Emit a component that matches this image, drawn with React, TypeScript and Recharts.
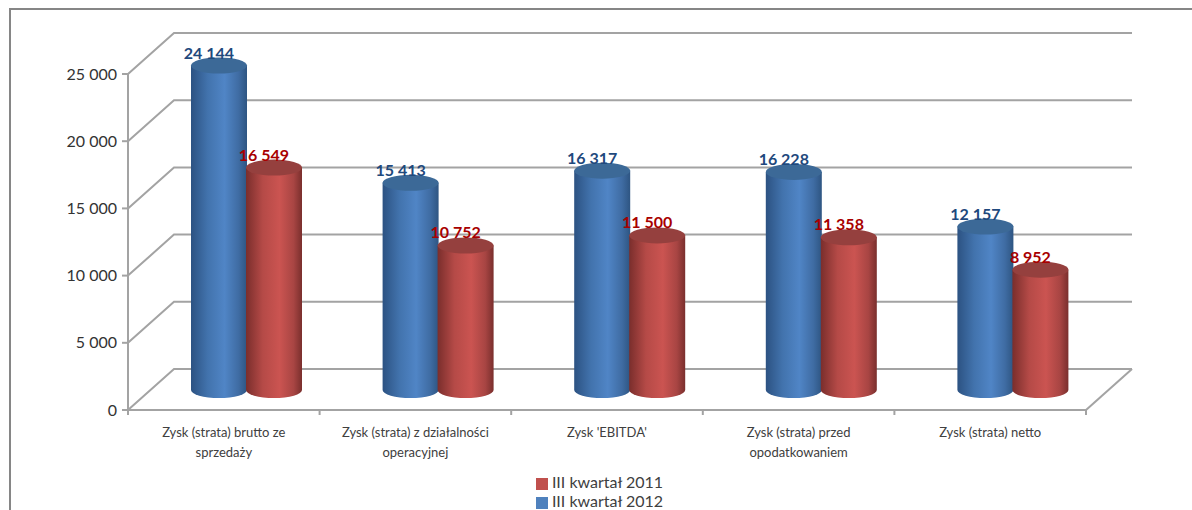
import {
  Bar,
  BarChart,
  CartesianGrid,
  LabelList,
  Legend,
  XAxis,
  YAxis,
} from "recharts";

const categories = [
  "Zysk (strata) brutto ze\nsprzedaży",
  "Zysk (strata) z działalności\noperacyjnej",
  "Zysk 'EBITDA'",
  "Zysk (strata) przed\nopodatkowaniem",
  "Zysk (strata) netto",
];
const values2012 = [24144, 15413, 16317, 16228, 12157];
const values2011 = [16549, 10752, 11500, 11358, 8952];
const yTicks = [0, 5000, 10000, 15000, 20000, 25000];

const data = categories.map((name, i) => ({
  name,
  q2012: values2012[i],
  q2011: values2011[i],
}));

const FONT = "Lato, sans-serif";
const GRID = "#a3a3a3";
const PLOT_WIDTH = 958;
// 3D look: back wall is shifted by this much, bars stand halfway in
const BACK_X = 46;
const BACK_Y = 41;
const MID_X = 23;
const MID_Y = 20;

const fmt = (v: number) =>
  String(v).replace(/\B(?=(\d{3})+$)/g, " ");

const Cylinder = (props: any) => {
  const { x, y, width, height, grad, top } = props;
  const rx = width / 2;
  const ry = 8;
  const l = x + MID_X;
  const r = l + width;
  const t = y - MID_Y;
  const b = t + height;
  return (
    <g>
      <path
        d={`M${l},${t} L${l},${b} A${rx},${ry} 0 0 0 ${r},${b} L${r},${t} Z`}
        fill={`url(#${grad})`}
      />
      <ellipse cx={l + rx} cy={t} rx={rx} ry={ry} fill={top} />
    </g>
  );
};

const WallLine = (props: any) => {
  const { x1, x2, y1 } = props;
  return (
    <g stroke={GRID} strokeWidth={2} fill="none">
      <path d={`M${x1},${y1} L${x1 + BACK_X},${y1 - BACK_Y} L${x2 + BACK_X},${y1 - BACK_Y}`} />
      {y1 > 400 && <path d={`M${x2},${y1} L${x2 + BACK_X},${y1 - BACK_Y}`} />}
    </g>
  );
};

const CategoryTick = (props: any) => {
  const { x, y, index, payload } = props;
  const half = PLOT_WIDTH / categories.length / 2;
  const lines = String(payload.value).split("\n");
  return (
    <g>
      <line x1={x + half} x2={x + half} y1={y - 1} y2={y + 5} stroke={GRID} strokeWidth={2} />
      {index === 0 && (
        <line x1={x - half} x2={x - half} y1={y - 1} y2={y + 5} stroke={GRID} strokeWidth={2} />
      )}
      <text textAnchor="middle" fontFamily={FONT} fontSize={13} fill="#404040">
        {lines.map((line, i) => (
          <tspan key={i} x={x} y={y + 27 + i * 20}>
            {line}
          </tspan>
        ))}
      </text>
    </g>
  );
};

const BarValue = (props: any) => {
  const { x, y, width, value, color } = props;
  return (
    <text
      x={x + width / 2 + MID_X - 10}
      y={y - MID_Y - 7}
      textAnchor="middle"
      fontFamily={FONT}
      fontSize={16}
      fontWeight={700}
      fill={color}
    >
      {fmt(value)}
    </text>
  );
};

export default function App() {
  return (
    <div style={{ position: "absolute", left: 0, top: 0, width: 1192, height: 510 }}>
      <div
        style={{
          position: "absolute",
          left: 9,
          top: 8,
          right: 0,
          bottom: 0,
          borderTop: "2px solid #868686",
          borderLeft: "2px solid #868686",
        }}
      />
      <BarChart
        width={1192}
        height={510}
        data={data}
        margin={{ top: 74, right: 106, bottom: 40, left: 60 }}
        barCategoryGap={40}
        barGap={-1}
        style={{ position: "absolute", left: 0, top: 0 }}
      >
        <defs>
          <linearGradient id="blueBody" x1="0" y1="0" x2="1" y2="0">
            <stop offset="0" stopColor="#2c5282" />
            <stop offset="0.3" stopColor="#4273ad" />
            <stop offset="0.6" stopColor="#5085c6" />
            <stop offset="0.85" stopColor="#3f6ca3" />
            <stop offset="1" stopColor="#2e5582" />
          </linearGradient>
          <linearGradient id="redBody" x1="0" y1="0" x2="1" y2="0">
            <stop offset="0" stopColor="#7a2e2c" />
            <stop offset="0.3" stopColor="#b54a47" />
            <stop offset="0.6" stopColor="#cb5451" />
            <stop offset="0.85" stopColor="#a84543" />
            <stop offset="1" stopColor="#7a2f2d" />
          </linearGradient>
        </defs>
        <CartesianGrid vertical={false} horizontal={(p: any) => <WallLine key={p.key} {...p} />} />
        <XAxis
          dataKey="name"
          interval={0}
          height={60}
          tickLine={false}
          tickSize={0}
          tickMargin={0}
          axisLine={{ stroke: GRID, strokeWidth: 2 }}
          tick={CategoryTick}
        />
        <YAxis
          width={68}
          domain={[0, 25000]}
          ticks={yTicks}
          tickFormatter={fmt}
          tickSize={6}
          tickMargin={5}
          axisLine={{ stroke: GRID, strokeWidth: 2 }}
          tickLine={{ stroke: GRID, strokeWidth: 2 }}
          tick={{ fontFamily: FONT, fontSize: 16, fill: "#333333" }}
        />
        <Legend
          layout="horizontal"
          align="center"
          verticalAlign="middle"
          iconType="square"
          iconSize={12}
          wrapperStyle={{ left: 461, top: 472, width: 300, fontFamily: FONT, fontSize: 16 }}
          formatter={(value: string) => (
            <span style={{ color: "#404040", marginRight: 13 }}>{value}</span>
          )}
        />
        <Bar
          dataKey="q2012"
          name="III kwartał 2012"
          fill="#4f81bd"
          isAnimationActive={false}
          shape={(p: any) => <Cylinder {...p} grad="blueBody" top="#3c6997" />}
        >
          <LabelList dataKey="q2012" content={(p: any) => <BarValue {...p} color="#1f497d" />} />
        </Bar>
        <Bar
          dataKey="q2011"
          name="III kwartał 2011"
          fill="#c0504d"
          isAnimationActive={false}
          shape={(p: any) => <Cylinder {...p} grad="redBody" top="#95403e" />}
        >
          <LabelList dataKey="q2011" content={(p: any) => <BarValue {...p} color="#a80000" />} />
        </Bar>
      </BarChart>
    </div>
  );
}
